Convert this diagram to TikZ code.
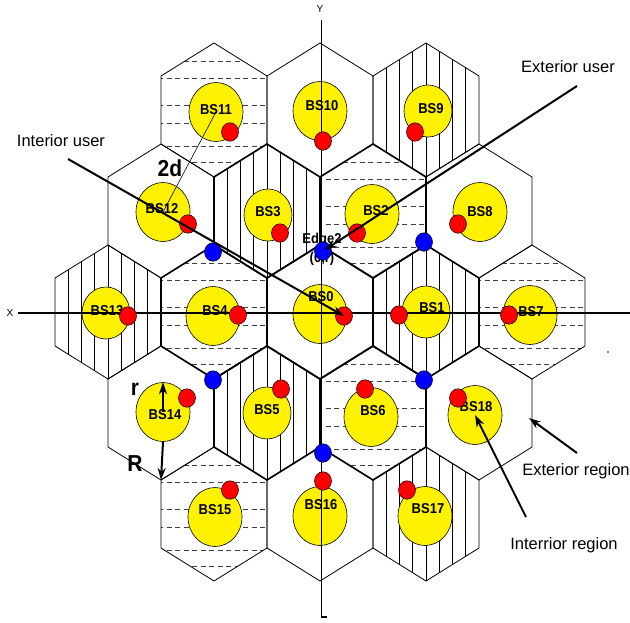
\documentclass[tikz,border=0pt]{standalone}
\usepackage{fontspec}
\setmainfont{Liberation Sans}
\usetikzlibrary{arrows.meta,shapes.geometric}
\newcommand\vstretch[1]{\scalebox{1}[1.1]{#1}}
\begin{document}
\begin{tikzpicture}[x=1pt,y=-1pt,
  hexo/.style={line width=0.8pt},
  hexi/.style={line width=1.6pt},
  hatchv/.style={line width=0.6pt},
  hatchd/.style={line width=0.9pt, draw=black!75, dash pattern=on 5pt off 3.5pt},
  bsc/.style={ellipse, draw=black, line width=0.6pt, fill=yellow, inner sep=0pt, minimum width=54pt, minimum height=59pt},
  bss/.style={bsc, minimum width=48pt, minimum height=52pt},
  udot/.style={ellipse, draw=black, line width=0.5pt, fill=red, inner sep=0pt, minimum width=17pt, minimum height=18.5pt},
  edot/.style={udot, fill=blue},
  bslab/.style={font=\bfseries\fontsize{13}{15}\selectfont, inner sep=0pt},
  biglab/.style={font=\bfseries\fontsize{21}{24}\selectfont, inner sep=0pt},
  txt/.style={font=\fontsize{16.5}{19}\selectfont, inner sep=0pt},
  axl/.style={font=\fontsize{10}{12}\selectfont, inner sep=0pt},
  axis/.style={line width=1.8pt},
  ar/.style={line width=2pt, -{Stealth[length=12pt,width=8pt]}}
]
\useasboundingbox (0,0) rectangle (630,622);
\def\hexpath{(0,-67) -- (53,-34) -- (53,34) -- (0,67) -- (-53,34) -- (-53,-34) -- cycle}
% cells: x / y / type (0 plain, 1 vertical, 2 dashed) / name
\foreach \cx/\cy/\t/\n in {214/110/2/11, 320/110/0/10, 426/110/1/9,
  161/211/0/12, 267/211/1/3, 373/211/2/2, 479/211/0/8,
  108/312/1/13, 214/312/2/4, 320/312/0/0, 426/312/1/1, 532/312/2/7,
  161/413/0/14, 267/413/1/5, 373/413/2/6, 479/413/0/18,
  214/514/2/15, 320/514/0/16, 426/514/1/17}{
  \coordinate (h\n) at (\cx,\cy);
  \begin{scope}[shift={(\cx,\cy)}]
    \fill[white] \hexpath;
    \begin{scope}
      \clip \hexpath;
      \ifnum\t=1
        \foreach \k in {1,...,7} \draw[hatchv] ({-53+13.25*\k},-70) -- ++(0,140);
      \fi
      \ifnum\t=2
        \foreach \d in {-49,-32,-5,13,36,52} \draw[hatchd] (-56,\d) -- (56,\d);
      \fi
    \end{scope}
  \end{scope}
}
% outlines: outer ring thin, inner cluster thick
\foreach \n in {11,10,9,12,8,13,7,14,18,15,16,17}{
  \draw[hexo, shift={(h\n)}] \hexpath;
}
\foreach \n in {3,2,4,0,1,5,6}{
  \draw[hexi, shift={(h\n)}] \hexpath;
}
% base station circles
\node[bsc] (bs11) at (216,112) {};
\node[bsc] (bs10) at (320,111) {};
\node[bss] (bs9)  at (428,111) {};
\node[bsc] (bs12) at (163,212) {};
\node[bss] (bs3)  at (268,215) {};
\node[bsc] (bs2)  at (372,214) {};
\node[bsc] (bs8)  at (480,212) {};
\node[bss] (bs13) at (106,313) {};
\node[bsc] (bs4)  at (213,316) {};
\node[bsc] (bs0)  at (320,314) {};
\node[bss] (bs1)  at (426,312) {};
\node[bsc] (bs7)  at (530,315) {};
\node[bsc] (bs14) at (163,412) {};
\node[bss] (bs5)  at (267,413) {};
\node[bsc] (bs6)  at (371,417) {};
\node[bsc] (bs18) at (475,415) {};
\node[bsc] (bs15) at (215,517) {};
\node[bsc] (bs16) at (320,516) {};
\node[bsc] (bs17) at (425,516) {};
% axes
\coordinate (xs) at (18,313);
\coordinate (xe) at (630,313);
\coordinate (ys) at (321.5,20);
\coordinate (ye) at (321.5,617);
\coordinate (yt) at (327,617);
\draw[axis] (xs) -- (xe);
\draw[axis] (ys) -- (ye) -- (yt);
\node[axl] (xl) at (10,313) {X};
\node[axl] (yl) at (320,9) {Y};
% labels
\node[bslab] (l11) at (216,110) {\vstretch{BS11}};
\node[bslab] (l10) at (322,106) {\vstretch{BS10}};
\node[bslab] (l9)  at (431,109) {\vstretch{BS9}};
\node[bslab] (l12) at (162,209) {\vstretch{BS12}};
\node[bslab] (l3)  at (268,212) {\vstretch{BS3}};
\node[bslab] (l2)  at (376,211) {\vstretch{BS2}};
\node[bslab] (l8)  at (480,212) {\vstretch{BS8}};
\node[bslab] (l13) at (107,311) {\vstretch{BS13}};
\node[bslab] (l4)  at (215,311) {\vstretch{BS4}};
\node[bslab] (l0)  at (321,297) {\vstretch{BS0}};
\node[bslab] (l1)  at (432,308) {\vstretch{BS1}};
\node[bslab] (l7)  at (531,312) {\vstretch{BS7}};
\node[bslab] (l14) at (165,415) {\vstretch{BS14}};
\node[bslab] (l5)  at (267,410) {\vstretch{BS5}};
\node[bslab] (l6)  at (373,411) {\vstretch{BS6}};
\node[bslab] (l18) at (476,407) {\vstretch{BS18}};
\node[bslab] (l15) at (215,510) {\vstretch{BS15}};
\node[bslab] (l16) at (321,505) {\vstretch{BS16}};
\node[bslab] (l17) at (428,509) {\vstretch{BS17}};
\node[bslab] (edl) at (322,240) {\vstretch{Edge2}};
\node[bslab] (edc) at (322,259) {\vstretch{(0,r)}};
% users (red) and edge points (blue)
\node[udot] (u11) at (230,132) {};
\node[udot] (u10) at (323,141) {};
\node[udot] (u9)  at (415,132) {};
\node[udot] (u12) at (188,224) {};
\node[udot] (u3)  at (280,233) {};
\node[udot] (u2)  at (357,233) {};
\node[udot] (u8)  at (458,224) {};
\node[udot] (u13) at (128,316) {};
\node[udot] (u4)  at (238,315) {};
\node[udot] (u0)  at (344,316) {};
\node[udot] (u1)  at (399,315) {};
\node[udot] (u7)  at (509,315) {};
\node[udot] (u14) at (187,398) {};
\node[udot] (u5)  at (281,389) {};
\node[udot] (u6)  at (365,389) {};
\node[udot] (u18) at (458,398) {};
\node[udot] (u15) at (230,490) {};
\node[udot] (u16) at (323,481) {};
\node[udot] (u17) at (407,490) {};
\node[edot] (e1) at (213,252) {};
\node[edot] (edge2) at (323,251) {};
\node[edot] (e3) at (424,242) {};
\node[edot] (e4) at (213,380) {};
\node[edot] (e5) at (424,380) {};
\node[edot] (e6) at (323,453) {};
% distance 2d
\draw[line width=0.6pt] (bs11.center) -- (bs12.center);
\node[biglab] (d2) at (170,168) {\vstretch{2d}};
% r and R
\coordinate (v14) at (161,480);
\draw[ar] (bs14.center) -- (bs14.north);
\draw[ar] (bs14.south) -- (v14);
\node[biglab] (rl) at (135,389) {\vstretch{r}};
\node[biglab] (Rl) at (135,464) {\vstretch{R}};
% user lines
\coordinate (iu) at (68,159);
\coordinate (eu) at (577,86);
\draw[ar] (iu) -- (u0.center);
\draw[ar, shorten >=2pt] (eu) -- (edge2.center);
\node[txt] (iul) at (61,141) {Interior user};
\node[txt] (eul) at (568,67) {Exterior user};
% region annotations
\coordinate (ert) at (577,453);
\coordinate (erh) at (529,418);
\coordinate (irt) at (526,517);
\draw[ar] (ert) -- (erh);
\draw[ar] (irt) -- (bs18.center);
\node[txt] (erl) at (576,471) {Exterior region};
\node[txt] (irl) at (564,545) {Interrior region};
\fill (608,352) circle (0.8pt);
\end{tikzpicture}
\end{document}
